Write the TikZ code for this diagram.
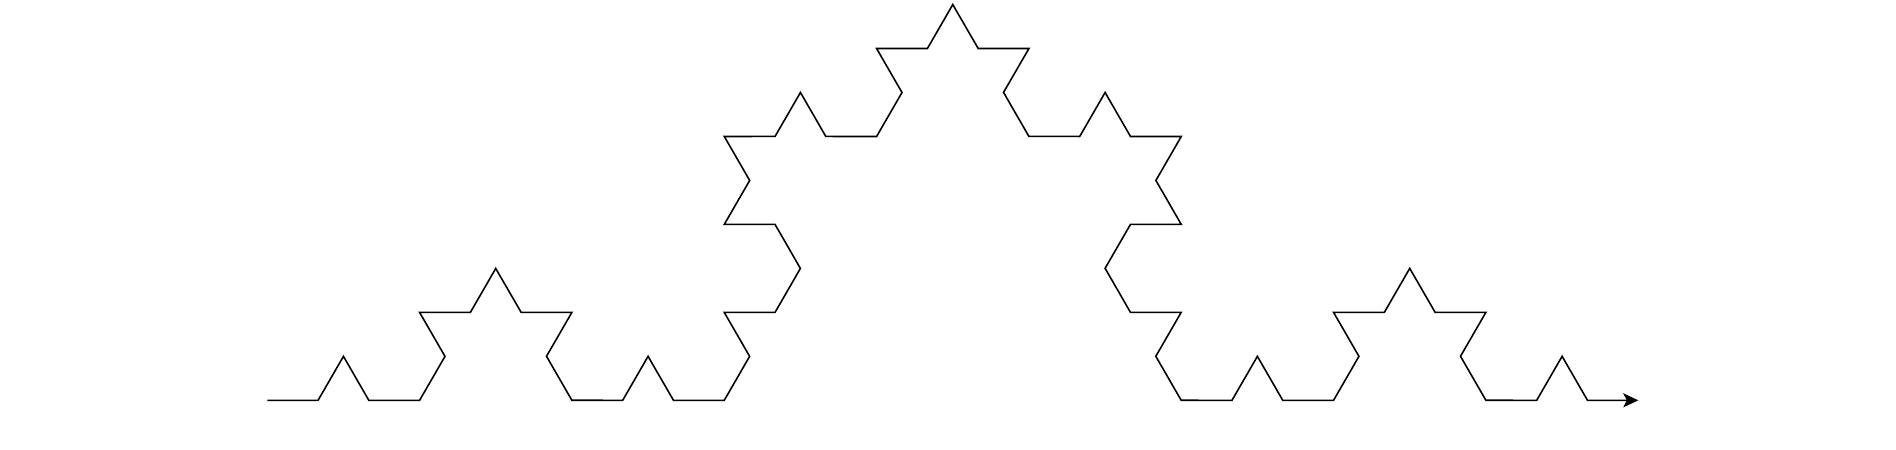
\documentclass[tikz,border=0pt]{standalone}
\usepackage{tikz}
\usetikzlibrary{arrows.meta, decorations.fractals}

\begin{document}
\begin{tikzpicture}[
  koch/.style={decoration=Koch snowflake, line width=0.45pt, draw=black},
  arrow/.style={-{Stealth[length=1.5mm, width=1.4mm, inset=0.35mm]}}
]
\useasboundingbox (0,0) rectangle (18.96,4.49);
\coordinate (start) at (2.673,0.487);
\coordinate (end) at (16.383,0.487);

% third order Koch curve
\draw[koch, arrow] decorate{decorate{decorate{(start) -- (end)}}};
\end{tikzpicture}
\end{document}
